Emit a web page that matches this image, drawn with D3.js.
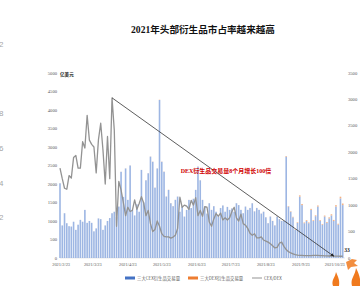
<!DOCTYPE html>
<html>
<head>
<meta charset="utf-8">
<script src="https://cdn.jsdelivr.net/npm/d3@7"></script>
<style>
  body { margin: 0; background: #fff; }
  svg { display: block; }
</style>
</head>
<body>
<div id="chart"></div>
<script>
const width = 360;
const height = 286;

// Data, one point every two days starting from startDate
const startDate = "2021/2/22";
const stepDays = 2;

// 三大CEX衍生品交易量 (亿美元)
const cexVolume = [
  2020, 880, 1210, 940, 860, 850, 980, 760, 900, 1030,
  980, 1300, 950, 1000, 950, 720, 800, 1070, 1050, 760,
  880, 1000, 1080, 1210, 1250, 1100, 1390, 2330, 1650, 2420,
  1570, 2500, 1300, 1150, 1450, 1250, 2380, 1500, 2100, 2290,
  2740, 2600, 1900, 2420, 4270, 2600, 2330, 1660, 1840, 1480,
  1400, 1570, 1660, 1250, 1390, 1120, 1300, 1570, 1350, 1600,
  1840, 2470, 2100, 1570, 1390, 1200, 1480, 1300, 1400, 1250,
  1120, 1350, 1420, 1250, 1380, 1300, 1340, 1250, 1480, 1430,
  1300, 1210, 1390, 1300, 1350, 1480, 1260, 1350, 1300, 1200,
  1250, 1100, 940, 1120, 1000, 880, 1120, 1050, 1000, 1000,
  2740, 1390, 1250, 1100, 760, 950, 1660, 1430, 940, 1000,
  940, 1300, 1000, 1130, 1390, 1000, 900, 1120, 950, 1070,
  1150, 1000, 1390, 900, 1610, 1430
];

// 三大DEX衍生品交易量 (亿美元)
const dexVolume = [
  1, 1, 1, 1, 1, 1, 1, 1, 1, 1,
  1, 1, 1, 1, 1, 1, 1, 1, 1, 1,
  1, 1, 1, 1, 1, 2, 1, 2, 2, 3,
  2, 3, 1, 1, 2, 1, 2, 1, 3, 3,
  4, 5, 4, 3, 7, 6, 6, 4, 5, 4,
  4, 4, 3, 1, 1, 1, 1, 2, 1, 2,
  2, 3, 2, 2, 1, 1, 2, 2, 2, 1,
  1, 2, 2, 2, 2, 2, 2, 1, 2, 2,
  2, 2, 2, 2, 3, 3, 3, 4, 3, 3,
  4, 3, 3, 4, 4, 5, 6, 4, 3, 5,
  17, 12, 13, 14, 12, 17, 33, 30, 20, 22,
  21, 28, 21, 23, 29, 22, 20, 27, 24, 28,
  32, 29, 39, 26, 47, 43
];

// CEX/DEX (right axis)
const cexDexRatio = [
  1700, 1500, 1320, 1300, 1560, 1510, 1900, 1940, 1700, 1700,
  2200, 2080, 2700, 2230, 2150, 2100, 1610, 2240, 2550, 2040,
  1400, 2300, 1500, 3030, 2420, 600, 1450, 1290, 1050, 800,
  960, 880, 900, 1100, 920, 1030, 1160, 1040, 800, 900,
  650, 500, 540, 700, 600, 460, 410, 400, 400, 375,
  395, 430, 560, 1150, 960, 1000, 980, 920, 1090, 1000,
  1140, 800, 900, 790, 970, 960, 680, 600, 740, 840,
  790, 850, 720, 760, 720, 760, 880, 960, 760, 700,
  830, 650, 620, 560, 470, 430, 460, 380, 380, 400,
  340, 320, 300, 270, 230, 190, 200, 280, 300, 220,
  160, 120, 95, 80, 65, 55, 50, 48, 46, 45,
  44, 46, 48, 50, 48, 45, 44, 42, 40, 38,
  36, 35, 34, 34, 33, 33
];

const tickLabels = ["2021/2/23", "2021/3/23", "2021/4/23", "2021/5/23", "2021/6/23",
  "2021/7/23", "2021/8/23", "2021/9/23", "2021/10/23"];
const leftTicks = [0, 500, 1000, 1500, 2000, 2500, 3000, 3500, 4000, 4500, 5000];
const rightTicks = [0, 500, 1000, 1500, 2000, 2500, 3000, 3500];

const seriesNames = ["三大CEX衍生品交易量", "三大DEX衍生品交易量", "CEX/DEX"];
const title = "2021年头部衍生品市占率越来越高";
const note = "DEX衍生品交易量8个月增长100倍";

const parse = d3.timeParse("%Y/%m/%d");
const t0 = parse(startDate);
const data = cexVolume.map((v, i) => ({
  date: d3.timeDay.offset(t0, i * stepDays),
  cex: v,
  dex: dexVolume[i],
  ratio: cexDexRatio[i]
}));

const svg = d3.select("#chart")
  .append("svg")
  .attr("width", width)
  .attr("height", height);

const x = d3.scaleTime()
  .domain([parse("2021/2/22"), parse("2021/11/1")])
  .range([60, 345]);

const yL = d3.scaleLinear().domain([0, 5000]).range([258, 73]);
const yR = d3.scaleLinear().domain([0, 3500]).range([258, 73]);

const cjk = "'Noto Sans CJK SC', 'Noto Sans', sans-serif";
const serif = "'Liberation Serif', 'Noto Sans CJK SC', serif";

// stray labels of the neighbouring chart, cut at the left edge
svg.append("g")
  .selectAll("text")
  .data([["2", 47], ["8", 116], ["6", 151], ["4", 186], ["2", 220]])
  .enter()
  .append("text")
  .attr("x", -1)
  .attr("y", d => d[1])
  .attr("font-family", "'Liberation Sans', sans-serif")
  .attr("font-size", 8)
  .attr("fill", "#a6a6a6")
  .text(d => d[0]);

// title
svg.append("text")
  .attr("x", 203)
  .attr("y", 33)
  .attr("text-anchor", "middle")
  .attr("font-family", serif)
  .attr("font-weight", "bold")
  .attr("font-size", 9.6)
  .attr("fill", "#111")
  .text(title);

// baseline
svg.append("line")
  .attr("x1", 60).attr("x2", 345)
  .attr("y1", yL(0)).attr("y2", yL(0))
  .attr("stroke", "#d9d9d9")
  .attr("stroke-width", 0.6);

// bars: CEX stacked with DEX
const bw = 1.6;
const bars = svg.append("g");

bars.selectAll(".cex")
  .data(data)
  .enter()
  .append("rect")
  .attr("class", "cex")
  .attr("x", d => x(d.date) - bw / 2)
  .attr("width", bw)
  .attr("y", d => yL(d.cex))
  .attr("height", d => yL(0) - yL(d.cex))
  .attr("fill", "#9db6e3");

bars.selectAll(".dex")
  .data(data)
  .enter()
  .append("rect")
  .attr("class", "dex")
  .attr("x", d => x(d.date) - bw / 2)
  .attr("width", bw)
  .attr("y", d => yL(d.cex + d.dex))
  .attr("height", d => yL(d.cex) - yL(d.cex + d.dex))
  .attr("fill", "#f4b183");

// ratio line
const line = d3.line()
  .x(d => x(d.date))
  .y(d => yR(d.ratio));

svg.append("path")
  .datum(data)
  .attr("d", line)
  .attr("fill", "none")
  .attr("stroke", "#939393")
  .attr("stroke-width", 1.3)
  .attr("stroke-linejoin", "round");

// left axis
svg.append("g")
  .selectAll("text")
  .data(leftTicks)
  .enter()
  .append("text")
  .attr("x", 57)
  .attr("y", d => yL(d) + 1.6)
  .attr("text-anchor", "end")
  .attr("font-family", "'Liberation Serif', serif")
  .attr("font-size", 4.6)
  .attr("fill", "#595959")
  .text(d => d);

svg.append("text")
  .attr("x", 60)
  .attr("y", 75.5)
  .attr("font-family", cjk)
  .attr("font-weight", "bold")
  .attr("font-size", 4.6)
  .attr("fill", "#222")
  .text("亿美元");

// right axis
svg.append("g")
  .selectAll("text")
  .data(rightTicks)
  .enter()
  .append("text")
  .attr("x", 348)
  .attr("y", d => yR(d) + 1.6)
  .attr("font-family", "'Liberation Serif', serif")
  .attr("font-size", 4.6)
  .attr("fill", "#595959")
  .text(d => d);

// x axis labels
svg.append("g")
  .selectAll("text")
  .data(tickLabels)
  .enter()
  .append("text")
  .attr("x", d => x(parse(d)))
  .attr("y", 266)
  .attr("text-anchor", "middle")
  .attr("font-family", "'Liberation Serif', serif")
  .attr("font-size", 4.4)
  .attr("fill", "#595959")
  .text(d => d);

// arrow from the ratio peak down to the latest value
const defs = svg.append("defs");
defs.append("marker")
  .attr("id", "head")
  .attr("viewBox", "0 0 10 10")
  .attr("refX", 8).attr("refY", 5)
  .attr("markerWidth", 5).attr("markerHeight", 5)
  .attr("orient", "auto")
  .append("path")
  .attr("d", "M0,1 L10,5 L0,9 Z")
  .attr("fill", "#222");

const peak = data[23];
const endPt = data[121];
svg.append("line")
  .attr("x1", x(peak.date)).attr("y1", yR(peak.ratio))
  .attr("x2", x(endPt.date)).attr("y2", yR(endPt.ratio))
  .attr("stroke", "#333")
  .attr("stroke-width", 0.8)
  .attr("marker-end", "url(#head)");

// last value label
const last = data[data.length - 1];
svg.append("text")
  .attr("x", x(last.date) + 1.5)
  .attr("y", yR(last.ratio) - 4)
  .attr("font-family", "'Liberation Serif', serif")
  .attr("font-weight", "bold")
  .attr("font-size", 5.6)
  .attr("fill", "#222")
  .text(last.ratio);

// red note
svg.append("text")
  .attr("x", 226)
  .attr("y", 173)
  .attr("text-anchor", "middle")
  .attr("font-family", serif)
  .attr("font-weight", "bold")
  .attr("font-size", 6)
  .attr("fill", "#d00000")
  .text(note);

// legend
const legend = svg.append("g").attr("font-family", cjk).attr("font-size", 4.4).attr("fill", "#595959");
const legendItems = [
  { name: seriesNames[0], x: 125, color: "#4472c4", type: "rect" },
  { name: seriesNames[1], x: 188, color: "#ed7d31", type: "rect" },
  { name: seriesNames[2], x: 252, color: "#a5a5a5", type: "line" }
];
legendItems.forEach(d => {
  if (d.type === "rect") {
    legend.append("rect")
      .attr("x", d.x).attr("y", 276.5)
      .attr("width", 10).attr("height", 3)
      .attr("fill", d.color);
  } else {
    legend.append("line")
      .attr("x1", d.x).attr("x2", d.x + 10)
      .attr("y1", 278).attr("y2", 278)
      .attr("stroke", d.color)
      .attr("stroke-width", 1.2);
  }
  legend.append("text")
    .attr("x", d.x + 12)
    .attr("y", 279.6)
    .text(d.name);
});

// orange flame decoration in the bottom right corner
const flames = svg.append("g").attr("fill", "#f07a1e");
flames.append("path").attr("d", "M333,286 C331,280 335,278 336,272 C338,277 340,280 339,286 Z");
flames.append("path").attr("d", "M352,286 C350,279 355,276 356,268 C359,274 361,279 360,286 Z");
flames.append("path").attr("d", "M346,262 L352,259 L357,260 L354,263 L358,266 L351,267 L348,270 L347,266 Z").attr("opacity", 0.85);
</script>
</body>
</html>
